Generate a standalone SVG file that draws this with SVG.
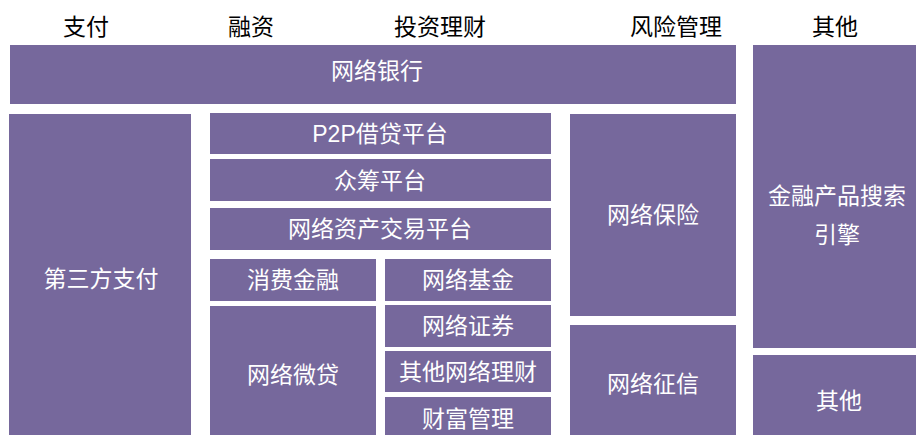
<svg xmlns="http://www.w3.org/2000/svg" width="916" height="435" viewBox="0 0 916 435">
<style>
.b{fill:#76689C}
.t{font-family:"Liberation Sans","Noto Sans CJK SC",sans-serif;font-size:23px;fill:#ffffff;text-anchor:middle}
.h{font-family:"Noto Sans CJK SC",sans-serif;font-size:23px;fill:#000000;text-anchor:middle}
</style>
<rect width="916" height="435" fill="#ffffff"/>
<g id="headers">
<text class="h" x="86" y="35">支付</text>
<text class="h" x="251" y="35">融资</text>
<text class="h" x="440" y="35">投资理财</text>
<text class="h" x="676" y="35">风险管理</text>
<text class="h" x="835" y="35">其他</text>
</g>
<g id="n-bank"><rect class="b" x="10" y="45" width="726" height="59"/><text class="t" x="377" y="79">网络银行</text></g>
<g id="n-thirdpay"><rect class="b" x="9" y="114" width="182" height="321"/><text class="t" x="101" y="287">第三方支付</text></g>
<g id="n-p2p"><rect class="b" x="210" y="113" width="341" height="41"/><text class="t" x="380" y="142">P2P借贷平台</text></g>
<g id="n-crowd"><rect class="b" x="210" y="159" width="341" height="42"/><text class="t" x="380" y="189">众筹平台</text></g>
<g id="n-asset"><rect class="b" x="210" y="208" width="341" height="42"/><text class="t" x="380" y="237">网络资产交易平台</text></g>
<g id="n-consumer"><rect class="b" x="210" y="259" width="166" height="42"/><text class="t" x="293" y="288">消费金融</text></g>
<g id="n-microloan"><rect class="b" x="210" y="306" width="166" height="129"/><text class="t" x="293" y="383">网络微贷</text></g>
<g id="n-fund"><rect class="b" x="385" y="259" width="166" height="42"/><text class="t" x="468" y="288">网络基金</text></g>
<g id="n-securities"><rect class="b" x="385" y="305" width="166" height="42"/><text class="t" x="468" y="334">网络证券</text></g>
<g id="n-otherwm"><rect class="b" x="385" y="351" width="166" height="41"/><text class="t" x="468" y="380">其他网络理财</text></g>
<g id="n-wealth"><rect class="b" x="385" y="397" width="166" height="38"/><text class="t" x="468" y="427">财富管理</text></g>
<g id="n-insurance"><rect class="b" x="570" y="114" width="166" height="202"/><text class="t" x="653" y="223">网络保险</text></g>
<g id="n-credit"><rect class="b" x="570" y="325" width="166" height="110"/><text class="t" x="653" y="392">网络征信</text></g>
<g id="n-search"><rect class="b" x="753" y="45" width="163" height="303"/><text class="t" x="837" y="204">金融产品搜索</text><text class="t" x="837" y="243">引擎</text></g>
<g id="n-other"><rect class="b" x="753" y="355" width="163" height="80"/><text class="t" x="839" y="409">其他</text></g>
<g id="connectors"></g>
</svg>
